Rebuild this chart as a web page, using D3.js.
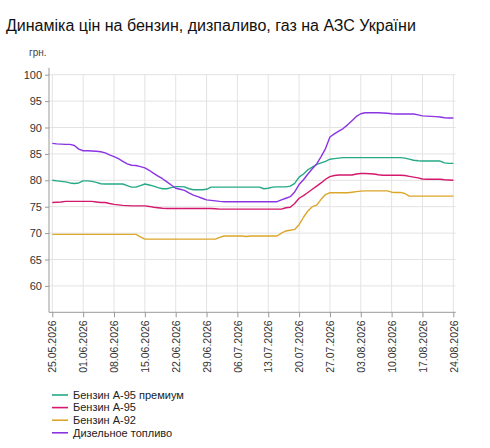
<!DOCTYPE html>
<html><head><meta charset="utf-8">
<script src="https://cdn.jsdelivr.net/npm/d3@7/dist/d3.min.js"></script>
<style>body{margin:0;background:#fff;font-family:Arial,"Liberation Sans",sans-serif}</style>
</head><body><svg id="c" width="490" height="448"></svg>
<script>
const title = "Динаміка цін на бензин, дизпаливо, газ на АЗС України";
const unit = "грн.";
const startDate = "2026-05-25";
const xTickLabels = ["25.05.2026","01.06.2026","08.06.2026","15.06.2026","22.06.2026","29.06.2026","06.07.2026","13.07.2026","20.07.2026","27.07.2026","03.08.2026","10.08.2026","17.08.2026","24.08.2026"];
const yTicks = [60,65,70,75,80,85,90,95,100];
const seriesNames = ["Бензин А-95 премиум","Бензин А-95","Бензин А-92","Дизельное топливо"];
const seriesColors = ["#25a986","#d4186c","#dca62a","#8a34e3"];

const premium95 = [80.0,79.9,79.8,79.7,79.5,79.4,79.5,79.9,79.9,79.8,79.6,79.35,79.3,79.3,79.3,79.3,79.3,79.0,78.7,78.7,79.0,79.3,79.1,78.9,78.6,78.4,78.4,78.6,78.8,78.8,78.75,78.4,78.2,78.2,78.2,78.3,78.7,78.7,78.7,78.7,78.7,78.7,78.7,78.7,78.7,78.7,78.7,78.7,78.4,78.5,78.7,78.75,78.75,78.75,78.9,79.4,80.6,81.2,82.0,82.5,83.0,83.3,83.6,84.0,84.1,84.2,84.3,84.3,84.3,84.3,84.3,84.3,84.3,84.3,84.3,84.3,84.3,84.3,84.3,84.3,84.2,84.0,83.8,83.7,83.65,83.65,83.65,83.65,83.65,83.3,83.2,83.2];
const a95 = [75.8,75.85,75.9,76.0,76.0,76.0,76.0,76.0,76.0,76.0,75.9,75.8,75.8,75.6,75.45,75.35,75.25,75.2,75.15,75.15,75.15,75.15,75.05,74.9,74.8,74.7,74.65,74.65,74.65,74.65,74.65,74.65,74.65,74.65,74.65,74.65,74.65,74.6,74.55,74.55,74.55,74.55,74.55,74.55,74.55,74.55,74.55,74.55,74.55,74.55,74.55,74.55,74.55,74.8,74.9,75.6,76.6,77.1,77.7,78.3,78.9,79.5,80.2,80.7,80.9,81.0,81.0,81.0,81.0,81.2,81.3,81.3,81.25,81.2,81.05,80.95,80.95,80.95,80.95,80.95,80.9,80.75,80.6,80.45,80.25,80.2,80.2,80.2,80.2,80.1,80.05,80.0];
const a92 = [69.75,69.75,69.75,69.75,69.75,69.75,69.75,69.75,69.75,69.75,69.75,69.75,69.75,69.75,69.75,69.75,69.75,69.75,69.75,69.75,69.3,68.85,68.85,68.85,68.85,68.85,68.85,68.85,68.85,68.85,68.85,68.85,68.85,68.85,68.85,68.85,68.85,68.85,69.2,69.45,69.45,69.45,69.45,69.45,69.35,69.45,69.45,69.45,69.45,69.45,69.45,69.45,70.0,70.4,70.55,70.7,71.6,73.0,74.2,75.0,75.3,76.4,77.3,77.65,77.65,77.65,77.65,77.65,77.75,77.85,77.95,78.0,78.0,78.0,78.0,78.0,78.0,77.75,77.7,77.7,77.5,77.0,77.0,77.0,77.0,77.0,77.0,77.0,77.0,77.0,77.0,77.0];
const diesel = [87.0,86.9,86.85,86.8,86.8,86.6,85.9,85.6,85.6,85.55,85.5,85.4,85.2,84.8,84.5,84.1,83.6,83.1,82.85,82.8,82.6,82.35,81.9,81.3,80.8,80.3,79.7,79.1,78.5,78.3,78.1,77.6,77.2,76.9,76.6,76.3,76.2,76.1,76.0,75.95,75.95,75.95,75.95,75.95,75.95,75.95,75.95,75.95,75.95,75.95,75.95,75.95,76.3,76.6,76.9,77.8,79.2,80.1,81.2,82.2,83.1,84.5,86.0,88.2,88.8,89.3,89.8,90.5,91.3,92.1,92.6,92.8,92.8,92.8,92.8,92.75,92.7,92.6,92.55,92.55,92.55,92.55,92.55,92.4,92.2,92.15,92.1,92.05,92.0,91.85,91.8,91.8];
const seriesValues = [premium95, a95, a92, diesel];

const svg = d3.select("#c");
const parse = d3.utcParse("%Y-%m-%d");
const t0 = parse(startDate);
const dates = premium95.map((_, i) => d3.utcDay.offset(t0, i));
const tickDates = xTickLabels.map(s => d3.utcParse("%d.%m.%Y")(s));

const x = d3.scaleUtc()
  .domain([d3.utcHour.offset(t0, -18), d3.utcHour.offset(tickDates[tickDates.length-1], 13)])
  .range([49, 455.7]);
const y = d3.scaleLinear().domain([55, 100]).range([312.3, 74.7]);

// title
svg.append("text").attr("x", 6).attr("y", 31).attr("font-size", 16).attr("fill", "#111").text(title);
svg.append("text").attr("x", 29).attr("y", 56).attr("font-size", 10).attr("fill", "#444").text(unit);

// grid
const g = svg.append("g");
g.selectAll(".hg").data(yTicks).join("line")
  .attr("x1", 49).attr("x2", 455.7).attr("y1", d => y(d)).attr("y2", d => y(d))
  .attr("stroke", "#e3e3e3").attr("stroke-width", 1);
g.selectAll(".vg").data(tickDates).join("line")
  .attr("x1", d => x(d)).attr("x2", d => x(d)).attr("y1", y(100)).attr("y2", y(55))
  .attr("stroke", "#e3e3e3").attr("stroke-width", 1);

// axes
const yAxis = d3.axisLeft(y).tickValues(yTicks).tickSize(4).tickPadding(3);
const ya = svg.append("g").attr("transform", "translate(49,0)").call(yAxis);
ya.select(".domain").attr("d", `M0,${y(101.3)}V${y(55)}`);
ya.selectAll("path,line").attr("stroke", "#999");
ya.selectAll("text").attr("font-size", 11).attr("fill", "#333").attr("font-family", "Arial, 'Liberation Sans', sans-serif");

const xAxis = d3.axisBottom(x).tickValues(tickDates).tickSize(5).tickFormat((d, i) => xTickLabels[i]);
const xa = svg.append("g").attr("transform", `translate(0,${y(55)})`).call(xAxis);
xa.select(".domain").attr("d", `M49,0H455.7`);
xa.selectAll("path,line").attr("stroke", "#999");
xa.selectAll("text").attr("font-size", 10.5).attr("fill", "#333").attr("font-family", "Arial, 'Liberation Sans', sans-serif")
  .attr("transform", "rotate(-90)").attr("text-anchor", "end").attr("dy", "0.35em").attr("x", -8).attr("y", 0);

// lines
const line = d3.line().x((d, i) => x(dates[i])).y(d => y(d)).curve(d3.curveLinear);
seriesValues.forEach((vals, k) => {
  svg.append("path").datum(vals).attr("d", line).attr("fill", "none")
    .attr("stroke", seriesColors[k]).attr("stroke-width", 1.4).attr("stroke-linejoin", "round");
});

// legend
const lg = svg.append("g");
seriesNames.forEach((n, k) => {
  const yy = 395 + k * 12.6;
  lg.append("line").attr("x1", 52).attr("x2", 68).attr("y1", yy).attr("y2", yy).attr("stroke", seriesColors[k]).attr("stroke-width", 1.6);
  lg.append("text").attr("x", 73).attr("y", yy).attr("dy", "0.35em").attr("font-size", 11).attr("fill", "#222").text(n);
});
</script></body></html>
